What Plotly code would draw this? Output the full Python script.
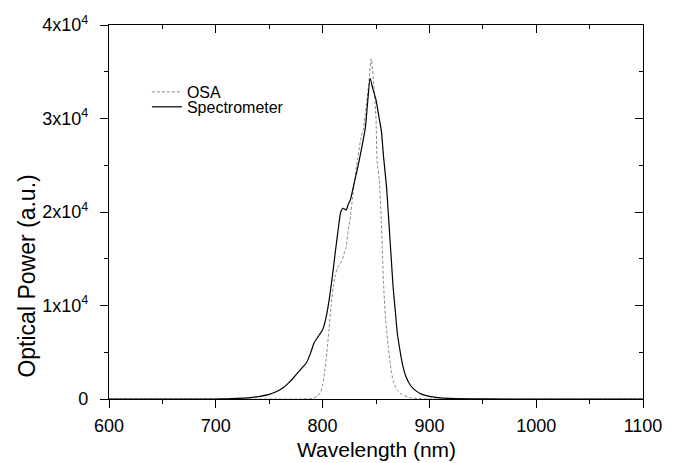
import plotly.graph_objects as go

# Spectrometer trace (wavelength nm, optical power a.u.)
spec_wl = [600, 700, 710, 720, 730, 740, 750, 757, 763, 768, 773, 779, 785, 789, 792, 796,
           800, 803, 806, 809, 812, 815, 817, 819, 821, 822, 824, 826, 829, 832, 836, 840,
           842, 844.5, 847, 850, 853, 855, 857, 860, 862, 864, 866, 868, 870, 872, 875, 878,
           882, 886, 892, 900, 910, 925, 950, 1000, 1100]
spec_pw = [0, 0, 20, 60, 130, 260, 500, 800, 1200, 1700, 2300, 3100, 3900, 5000, 6000, 6700,
           7400, 8600, 10500, 13000, 15800, 18500, 20000, 20400, 20300, 20200, 20800, 21300, 22800, 24300, 26500, 29000,
           31500, 34300, 33200, 32000, 30000, 28700, 26000, 22500, 19000, 15500, 12000, 9500, 7000, 5500, 3600, 2400,
           1500, 1000, 550, 280, 120, 50, 10, 0, 0]

# OSA trace
osa_wl = [600, 700, 780, 788, 792, 795, 798, 800, 802, 804, 806, 808, 810, 812, 814, 816,
          818, 820, 822, 824, 826, 828, 830, 833, 836, 838, 840, 843, 845.5, 848, 850, 851,
          853, 855, 857, 859, 861.5, 864, 866, 870, 875, 882, 890, 900, 1100]
osa_pw = [0, 0, 0, 30, 120, 300, 700, 1500, 3000, 5000, 7500, 10000, 12000, 13300, 14000, 14400,
          14800, 15500, 16300, 18000, 19500, 21500, 23500, 25800, 28000, 28800, 30500, 33500, 36400, 33500, 30000, 25500,
          23500, 19000, 12500, 8500, 5600, 3200, 2000, 900, 430, 150, 40, 0, 0]

x_ticks = [600, 700, 800, 900, 1000, 1100]
y_ticks = [0, 10000, 20000, 30000, 40000]
y_ticktext = ["0", "1x10<sup>4</sup>", "2x10<sup>4</sup>", "3x10<sup>4</sup>", "4x10<sup>4</sup>"]
x_minor = [650, 750, 850, 950, 1050]
y_minor = [5000, 15000, 25000, 35000]

FONT = "Liberation Sans, Arial, Helvetica, sans-serif"

fig = go.Figure()
fig.add_trace(go.Scatter(x=osa_wl, y=osa_pw, mode="lines", name="OSA", legend="legend",
                         line=dict(color="#8a8a8a", width=1, dash="3px,2px", shape="spline", smoothing=0.6)))
fig.add_trace(go.Scatter(x=spec_wl, y=spec_pw, mode="lines", name="Spectrometer", legend="legend2",
                         line=dict(color="black", width=1.2, shape="spline", smoothing=0.6)))
# invisible trace for mirrored axes
fig.add_trace(go.Scatter(x=[600], y=[0], xaxis="x2", yaxis="y2", mode="markers",
                         marker=dict(opacity=0), showlegend=False, hoverinfo="skip"))

axis_common = dict(showline=True, linecolor="black", linewidth=1.3, showgrid=False,
                   zeroline=False, tickcolor="black", tickwidth=1.3, automargin=False)
leg_common = dict(xanchor="left", yanchor="middle", bgcolor="rgba(0,0,0,0)",
                  font=dict(size=16, family=FONT), borderwidth=0)

fig.update_layout(
    width=669, height=455,
    margin=dict(l=101, r=34, t=17, b=64),
    paper_bgcolor="white", plot_bgcolor="white",
    font=dict(family=FONT, size=18, color="black"),
    showlegend=True,
    legend=dict(x=0.071, y=0.821, **leg_common),
    legend2=dict(x=0.071, y=0.781, **leg_common),
    xaxis=dict(range=[600, 1100], tickmode="array", tickvals=x_ticks, ticks="outside",
               ticklen=8, tickfont=dict(size=18), ticklabelstandoff=2,
               minor=dict(tickvals=x_minor, ticks="outside", ticklen=4, tickcolor="black", tickwidth=1.3),
               **axis_common),
    yaxis=dict(range=[0, 40000], tickmode="array", tickvals=y_ticks, ticktext=y_ticktext,
               ticks="outside", ticklen=8, tickfont=dict(size=18), ticklabelstandoff=8,
               minor=dict(tickvals=y_minor, ticks="outside", ticklen=4, tickcolor="black", tickwidth=1.3),
               **axis_common),
    xaxis2=dict(range=[600, 1100], overlaying="x", side="top", anchor="y2",
                tickmode="array", tickvals=x_ticks, ticks="inside", ticklen=8,
                showticklabels=False,
                minor=dict(tickvals=x_minor, ticks="inside", ticklen=4, tickcolor="black", tickwidth=1.3),
                **axis_common),
    yaxis2=dict(range=[0, 40000], overlaying="y", side="right", anchor="x2",
                tickmode="array", tickvals=y_ticks, ticks="inside", ticklen=8,
                showticklabels=False,
                minor=dict(tickvals=y_minor, ticks="inside", ticklen=4, tickcolor="black", tickwidth=1.3),
                **axis_common),
    annotations=[
        dict(text="Optical Power (a.u.)", xref="paper", yref="paper",
             x=-0.1536, y=0.33, xanchor="center", yanchor="middle",
             textangle=-90, showarrow=False, font=dict(size=23, family=FONT)),
        dict(text="Wavelength (nm)", xref="paper", yref="paper",
             x=0.5, y=-0.136, xanchor="center", yanchor="middle",
             showarrow=False, font=dict(size=21, family=FONT)),
    ],
)

fig.write_html("out.html")
